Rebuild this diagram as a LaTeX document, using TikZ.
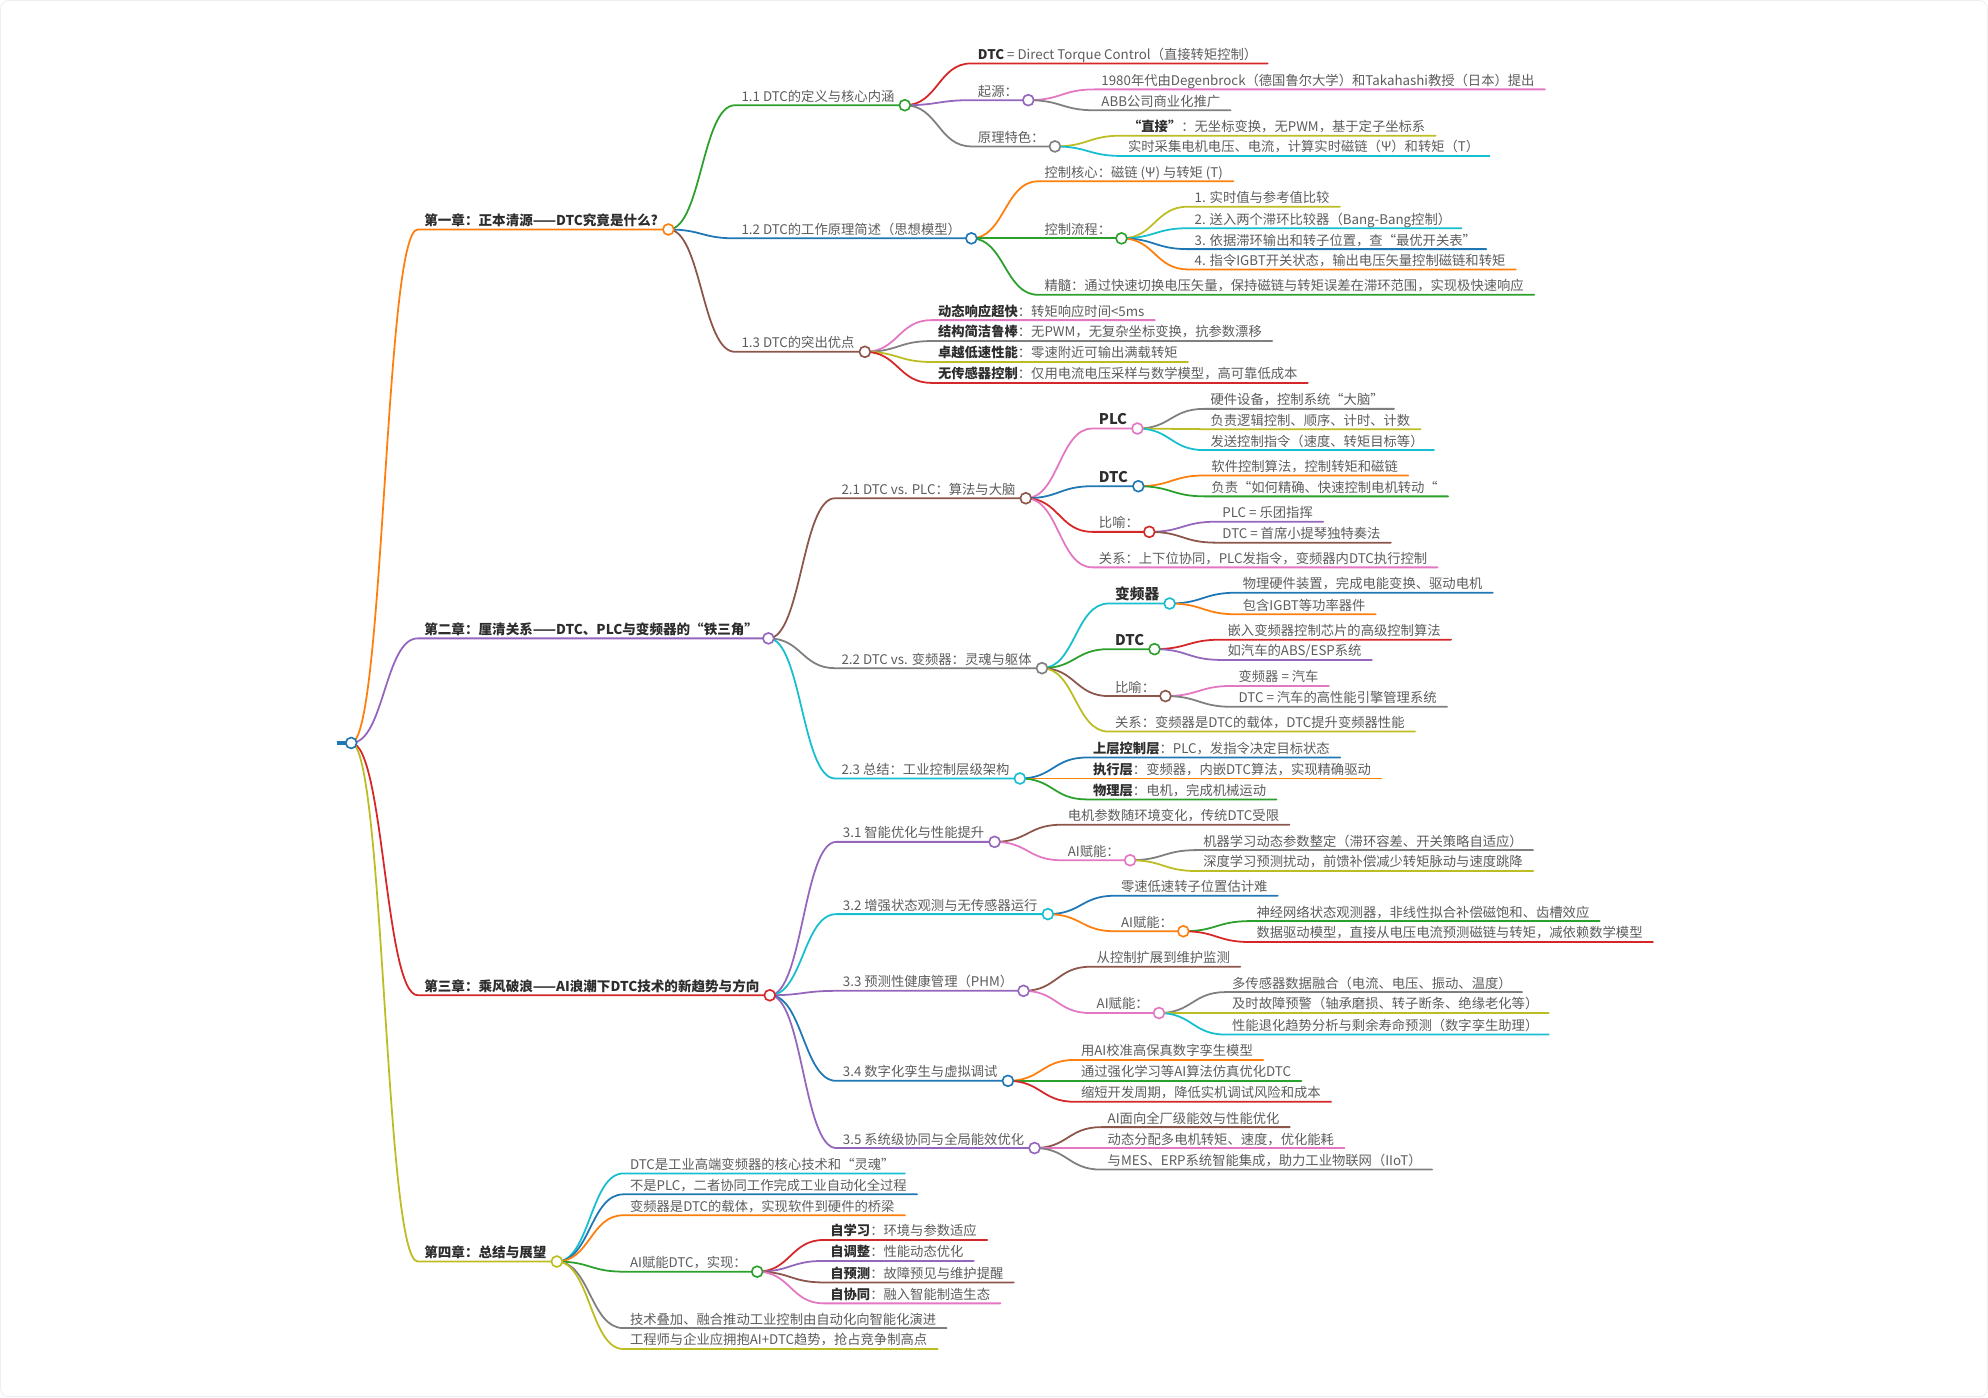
\documentclass[tikz,border=0pt]{standalone}
\usepackage{fontspec}
\setmainfont{Noto Sans CJK SC}
\usepackage{tikz}
\usetikzlibrary{calc,backgrounds}
\definecolor{mmBlue}{RGB}{31,119,180}
\definecolor{mmOrange}{RGB}{255,127,14}
\definecolor{mmGreen}{RGB}{44,160,44}
\definecolor{mmRed}{RGB}{214,39,40}
\definecolor{mmPurple}{RGB}{148,103,189}
\definecolor{mmBrown}{RGB}{140,86,75}
\definecolor{mmPink}{RGB}{227,119,194}
\definecolor{mmGray}{RGB}{127,127,127}
\definecolor{mmOlive}{RGB}{188,189,34}
\definecolor{mmCyan}{RGB}{23,190,207}
\definecolor{mmText}{RGB}{92,92,92}
\definecolor{mmDark}{RGB}{45,45,45}
\tikzset{
  topic/.style={font=\fontsize{10.5pt}{13pt}\selectfont, text=mmText, inner xsep=5pt, inner ysep=3pt, text height=8pt, text depth=0pt, anchor=south west},
  chapter/.style={topic, font=\fontsize{10.7pt}{13pt}\selectfont\bfseries, text=mmDark},
  edge/.style={line width=1.4pt, line cap=round},
  knot/.style={line width=1.3pt, fill=white},
  frame/.style={draw=black!10, rounded corners=6pt}
}
\newcommand{\kw}[1]{{\bfseries\color{mmDark}#1}}
\newcommand{\kwbig}[1]{{\fontsize{11.6pt}{14pt}\selectfont\bfseries\color{mmDark}#1}}
% name, parent, y of the underline, colour, text
\newcommand{\mmbranch}[6][topic]{%
  \node[#1] (#2) at ($(#3end |- 0,#4)+(52.5,0)$) {#6};
  \coordinate (#2end) at ([xshift=3pt]#2.south east);
  \begin{scope}[on background layer]
    \draw[edge, draw=#5] (#3end) .. controls +(26,0) and +(-26,0) .. (#2.south west) -- (#2end);
  \end{scope}}
\newcommand{\mmknot}[2]{\draw[knot, draw=#2] (#1end) circle (4.3pt);}

\begin{document}
\begin{tikzpicture}[x=1pt, y=-1pt]
\useasboundingbox (0,0) rectangle (1568,1102);
\draw[frame] (0.5,0.5) rectangle (1567.5,1101.5);

\node[inner sep=0pt, minimum width=11pt, minimum height=0pt, anchor=east] (root) at (277,586) {};
\coordinate (rootend) at (root.east);
\draw[mmBlue, line width=3pt] (root.west) -- (rootend);

% chapter 1
\mmbranch[chapter]{c1}{root}{181}{mmOrange}{第一章：正本清源——DTC究竟是什么?}
\mmbranch{c1a}{c1}{83}{mmGreen}{1.1 DTC的定义与核心内涵}
\mmbranch{c1aa}{c1a}{50}{mmRed}{\kw{DTC} = Direct Torque Control（直接转矩控制）}
\mmbranch{c1ab}{c1a}{79}{mmPurple}{起源：}
\mmbranch{c1aba}{c1ab}{70.5}{mmPink}{1980年代由Degenbrock（德国鲁尔大学）和Takahashi教授（日本）提出}
\mmbranch{c1abb}{c1ab}{87}{mmGray}{ABB公司商业化推广}
\mmbranch{c1ac}{c1a}{115.5}{mmGray}{原理特色：}
\mmbranch{c1aca}{c1ac}{107}{mmOlive}{\kw{“直接”}：无坐标变换，无PWM，基于定子坐标系}
\mmbranch{c1acb}{c1ac}{123}{mmCyan}{实时采集电机电压、电流，计算实时磁链（Ψ）和转矩（T）}
\mmbranch{c1b}{c1}{188}{mmBlue}{1.2 DTC的工作原理简述（思想模型）}
\mmbranch{c1ba}{c1b}{143}{mmOrange}{控制核心：磁链 (Ψ) 与转矩 (T)}
\mmbranch{c1bb}{c1b}{188}{mmGreen}{控制流程：}
\mmbranch{c1bba}{c1bb}{163}{mmOlive}{1. 实时值与参考值比较}
\mmbranch{c1bbb}{c1bb}{180}{mmCyan}{2. 送入两个滞环比较器（Bang-Bang控制）}
\mmbranch{c1bbc}{c1bb}{196.5}{mmBlue}{3. 依据滞环输出和转子位置，查“最优开关表”}
\mmbranch{c1bbd}{c1bb}{212.5}{mmOrange}{4. 指令IGBT开关状态，输出电压矢量控制磁链和转矩}
\mmbranch{c1bc}{c1b}{232.5}{mmGreen}{精髓：通过快速切换电压矢量，保持磁链与转矩误差在滞环范围，实现极快速响应}
\mmbranch{c1c}{c1}{277.5}{mmBrown}{1.3 DTC的突出优点}
\mmbranch{c1ca}{c1c}{252.5}{mmPink}{\kw{动态响应超快}：转矩响应时间<5ms}
\mmbranch{c1cb}{c1c}{269}{mmGray}{\kw{结构简洁鲁棒}：无PWM，无复杂坐标变换，抗参数漂移}
\mmbranch{c1cc}{c1c}{285.5}{mmOlive}{\kw{卓越低速性能}：零速附近可输出满载转矩}
\mmbranch{c1cd}{c1c}{302}{mmRed}{\kw{无传感器控制}：仅用电流电压采样与数学模型，高可靠低成本}
\mmknot{c1ab}{mmPurple}
\mmknot{c1ac}{mmGray}
\mmknot{c1a}{mmGreen}
\mmknot{c1bb}{mmGreen}
\mmknot{c1b}{mmBlue}
\mmknot{c1c}{mmBrown}
\mmknot{c1}{mmOrange}

% chapter 2
\mmbranch[chapter]{c2}{root}{503.5}{mmPurple}{第二章：厘清关系——DTC、PLC与变频器的“铁三角”}
\mmbranch{c2a}{c2}{393}{mmBrown}{2.1 DTC vs. PLC：算法与大脑}
\mmbranch{c2aa}{c2a}{338}{mmPink}{\kwbig{PLC}}
\mmbranch{c2aaa}{c2aa}{322.5}{mmGray}{硬件设备，控制系统“大脑”}
\mmbranch{c2aab}{c2aa}{338.5}{mmOlive}{负责逻辑控制、顺序、计时、计数}
\mmbranch{c2aac}{c2aa}{355}{mmCyan}{发送控制指令（速度、转矩目标等）}
\mmbranch{c2ab}{c2a}{383.5}{mmBlue}{\kwbig{DTC}}
\mmbranch{c2aba}{c2ab}{375}{mmOrange}{软件控制算法，控制转矩和磁链}
\mmbranch{c2abb}{c2ab}{391.5}{mmGreen}{负责“如何精确、快速控制电机转动“}
\mmbranch{c2ac}{c2a}{419.5}{mmRed}{比喻：}
\mmbranch{c2aca}{c2ac}{411.5}{mmPurple}{PLC = 乐团指挥}
\mmbranch{c2acb}{c2ac}{428}{mmBrown}{DTC = 首席小提琴独特奏法}
\mmbranch{c2ad}{c2a}{447.5}{mmPink}{关系：上下位协同，PLC发指令，变频器内DTC执行控制}
\mmbranch{c2b}{c2}{527}{mmGray}{2.2 DTC vs. 变频器：灵魂与躯体}
\mmbranch{c2ba}{c2b}{476}{mmCyan}{\kwbig{变频器}}
\mmbranch{c2baa}{c2ba}{467.5}{mmBlue}{物理硬件装置，完成电能变换、驱动电机}
\mmbranch{c2bab}{c2ba}{484.5}{mmOrange}{包含IGBT等功率器件}
\mmbranch{c2bb}{c2b}{512}{mmGreen}{\kwbig{DTC}}
\mmbranch{c2bba}{c2bb}{504.5}{mmRed}{嵌入变频器控制芯片的高级控制算法}
\mmbranch{c2bbb}{c2bb}{520.5}{mmPurple}{如汽车的ABS/ESP系统}
\mmbranch{c2bc}{c2b}{549}{mmBrown}{比喻：}
\mmbranch{c2bca}{c2bc}{541}{mmPink}{变频器 = 汽车}
\mmbranch{c2bcb}{c2bc}{557.5}{mmGray}{DTC = 汽车的高性能引擎管理系统}
\mmbranch{c2bd}{c2b}{577}{mmOlive}{关系：变频器是DTC的载体，DTC提升变频器性能}
\mmbranch{c2c}{c2}{614}{mmCyan}{2.3 总结：工业控制层级架构}
\mmbranch{c2ca}{c2c}{597.5}{mmBlue}{\kw{上层控制层}：PLC，发指令决定目标状态}
\mmbranch{c2cb}{c2c}{614}{mmOrange}{\kw{执行层}：变频器，内嵌DTC算法，实现精确驱动}
\mmbranch{c2cc}{c2c}{630.5}{mmGreen}{\kw{物理层}：电机，完成机械运动}
\mmknot{c2aa}{mmPink}
\mmknot{c2ab}{mmBlue}
\mmknot{c2ac}{mmRed}
\mmknot{c2a}{mmBrown}
\mmknot{c2ba}{mmCyan}
\mmknot{c2bb}{mmGreen}
\mmknot{c2bc}{mmBrown}
\mmknot{c2b}{mmGray}
\mmknot{c2c}{mmCyan}
\mmknot{c2}{mmPurple}

% chapter 3
\mmbranch[chapter]{c3}{root}{785}{mmRed}{第三章：乘风破浪——AI浪潮下DTC技术的新趋势与方向}
\mmbranch{c3a}{c3}{664}{mmPurple}{3.1 智能优化与性能提升}
\mmbranch{c3aa}{c3a}{650.5}{mmBrown}{电机参数随环境变化，传统DTC受限}
\mmbranch{c3ab}{c3a}{678.5}{mmPink}{AI赋能：}
\mmbranch{c3aba}{c3ab}{670.5}{mmGray}{机器学习动态参数整定（滞环容差、开关策略自适应）}
\mmbranch{c3abb}{c3ab}{687}{mmOlive}{深度学习预测扰动，前馈补偿减少转矩脉动与速度跳降}
\mmbranch{c3b}{c3}{721}{mmCyan}{3.2 增强状态观测与无传感器运行}
\mmbranch{c3ba}{c3b}{706.5}{mmBlue}{零速低速转子位置估计难}
\mmbranch{c3bb}{c3b}{734.5}{mmOrange}{AI赋能：}
\mmbranch{c3bba}{c3bb}{726.5}{mmGreen}{神经网络状态观测器，非线性拟合补偿磁饱和、齿槽效应}
\mmbranch{c3bbb}{c3bb}{743}{mmRed}{数据驱动模型，直接从电压电流预测磁链与转矩，减依赖数学模型}
\mmbranch{c3c}{c3}{781.5}{mmPurple}{3.3 预测性健康管理（PHM）}
\mmbranch{c3ca}{c3c}{762.5}{mmBrown}{从控制扩展到维护监测}
\mmbranch{c3cb}{c3c}{799}{mmPink}{AI赋能：}
\mmbranch{c3cba}{c3cb}{782.5}{mmGray}{多传感器数据融合（电流、电压、振动、温度）}
\mmbranch{c3cbb}{c3cb}{799}{mmOlive}{及时故障预警（轴承磨损、转子断条、绝缘老化等）}
\mmbranch{c3cbc}{c3cb}{816}{mmCyan}{性能退化趋势分析与剩余寿命预测（数字孪生助理）}
\mmbranch{c3d}{c3}{852.5}{mmBlue}{3.4 数字化孪生与虚拟调试}
\mmbranch{c3da}{c3d}{836}{mmOrange}{用AI校准高保真数字孪生模型}
\mmbranch{c3db}{c3d}{852.5}{mmGreen}{通过强化学习等AI算法仿真优化DTC}
\mmbranch{c3dc}{c3d}{869}{mmRed}{缩短开发周期，降低实机调试风险和成本}
\mmbranch{c3e}{c3}{905.5}{mmPurple}{3.5 系统级协同与全局能效优化}
\mmbranch{c3ea}{c3e}{889}{mmBrown}{AI面向全厂级能效与性能优化}
\mmbranch{c3eb}{c3e}{905.5}{mmPink}{动态分配多电机转矩、速度，优化能耗}
\mmbranch{c3ec}{c3e}{922.5}{mmGray}{与MES、ERP系统智能集成，助力工业物联网（IIoT）}
\mmknot{c3ab}{mmPink}
\mmknot{c3a}{mmPurple}
\mmknot{c3bb}{mmOrange}
\mmknot{c3b}{mmCyan}
\mmknot{c3cb}{mmPink}
\mmknot{c3c}{mmPurple}
\mmknot{c3d}{mmBlue}
\mmknot{c3e}{mmPurple}
\mmknot{c3}{mmRed}

% chapter 4
\mmbranch[chapter]{c4}{root}{995}{mmOlive}{第四章：总结与展望}
\mmbranch{c4a}{c4}{925.5}{mmCyan}{DTC是工业高端变频器的核心技术和“灵魂”}
\mmbranch{c4b}{c4}{942}{mmBlue}{不是PLC，二者协同工作完成工业自动化全过程}
\mmbranch{c4c}{c4}{958.5}{mmOrange}{变频器是DTC的载体，实现软件到硬件的桥梁}
\mmbranch{c4d}{c4}{1003}{mmGreen}{AI赋能DTC，实现：}
\mmbranch{c4da}{c4d}{978}{mmRed}{\kw{自学习}：环境与参数适应}
\mmbranch{c4db}{c4d}{994.5}{mmPurple}{\kw{自调整}：性能动态优化}
\mmbranch{c4dc}{c4d}{1011.5}{mmBrown}{\kw{自预测}：故障预见与维护提醒}
\mmbranch{c4dd}{c4d}{1028}{mmPink}{\kw{自协同}：融入智能制造生态}
\mmbranch{c4e}{c4}{1047.5}{mmGray}{技术叠加、融合推动工业控制由自动化向智能化演进}
\mmbranch{c4f}{c4}{1064}{mmOlive}{工程师与企业应拥抱AI+DTC趋势，抢占竞争制高点}
\mmknot{c4d}{mmGreen}
\mmknot{c4}{mmOlive}
\mmknot{root}{mmBlue}
\end{tikzpicture}
\end{document}
